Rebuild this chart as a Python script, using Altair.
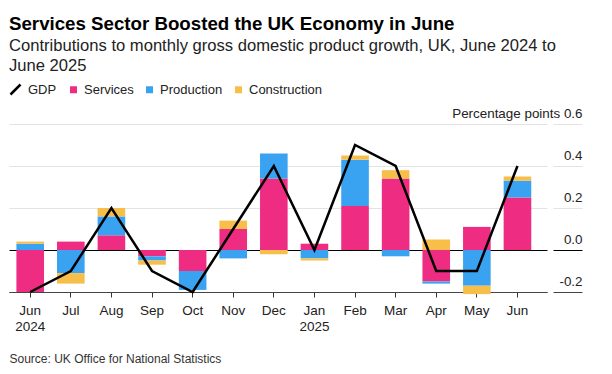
import altair as alt
import pandas as pd

months = ["Jun 2024", "Jul", "Aug", "Sep", "Oct", "Nov", "Dec",
          "Jan 2025", "Feb", "Mar", "Apr", "May", "Jun"]
services = [-0.20, 0.04, 0.07, -0.03, -0.10, 0.10, 0.34, 0.03, 0.21, 0.34, -0.15, 0.11, 0.25]
production = [0.03, -0.11, 0.09, -0.02, -0.09, -0.04, 0.12, -0.04, 0.22, -0.03, -0.01, -0.17, 0.08]
construction = [0.01, -0.05, 0.04, -0.02, 0.00, 0.04, -0.02, -0.01, 0.02, 0.04, 0.05, -0.04, 0.02]
gdp = [-0.2, -0.1, 0.2, -0.1, -0.2, 0.1, 0.4, 0.0, 0.5, 0.4, -0.1, -0.1, 0.4]

sectors = ["Services", "Production", "Construction"]
sector_colors = ["#EE2D82", "#39A3F2", "#F7BF4A"]

rows = []
for i, m in enumerate(months):
    for k, (name, vals) in enumerate(zip(sectors, [services, production, construction])):
        rows.append({"month": m, "sector": name, "value": vals[i], "order": k})
bars_df = pd.DataFrame(rows)
line_df = pd.DataFrame({"month": months, "gdp": gdp, "series": ["GDP"] * len(months)})

FONT = "Liberation Sans"

x_scale = alt.Scale(domain=months, paddingInner=0.32, paddingOuter=0.285, align=0.32)
y_scale = alt.Scale(domain=[-0.2, 0.6], nice=False, zero=False)

x_axis = alt.Axis(
    title="Source: UK Office for National Statistics",
    titleAnchor="start", titleAlign="left", titleFontWeight="normal",
    titleFontSize=12, titleColor="#333", titlePadding=21,
    labelAngle=0, labelExpr="split(datum.label, ' ')",
    labelFontSize=13.5, labelColor="#222", labelPadding=6, labelLineHeight=16,
    tickSize=5, tickColor="#333", domainColor="#444", grid=False,
)

y_axis = alt.Axis(
    title=None, orient="right", offset=6, tickSize=29, domain=False,
    values=[-0.2, 0, 0.2, 0.4, 0.6],
    labelExpr="datum.value > 0.5 ? 'Percentage points 0.6' : (datum.value < -0.1 ? '-0.2' : format(datum.value, '.1f'))",
    labelAlign="right", labelPadding=0, labelBaseline="alphabetic", labelOffset=-7,
    labelFontSize=13.4, labelColor="#222",
    gridColor={"condition": [{"test": "datum.value === 0", "value": "#000"},
                             {"test": "datum.value < -0.1", "value": "#444"}],
               "value": "#e3e3e3"},
    tickColor={"condition": [{"test": "datum.value === 0", "value": "#000"},
                             {"test": "datum.value < -0.1", "value": "#444"}],
               "value": "#e3e3e3"},
)

bars = alt.Chart(bars_df).mark_bar().encode(
    x=alt.X("month:N", scale=x_scale, axis=x_axis, sort=months),
    y=alt.Y("value:Q", scale=y_scale, axis=y_axis, stack="zero"),
    color=alt.Color("sector:N", scale=alt.Scale(domain=sectors, range=sector_colors),
                    legend=alt.Legend(title=None, orient="none", legendX=58, legendY=-41,
                                      direction="horizontal", symbolType="square",
                                      symbolSize=49, labelFontSize=13, columnPadding=9,
                                      labelOffset=4, labelColor="#222")),
    order=alt.Order("order:Q"),
)

line = alt.Chart(line_df).mark_line(strokeWidth=2.5).encode(
    x=alt.X("month:N", scale=x_scale, sort=months),
    y=alt.Y("gdp:Q", scale=y_scale),
    stroke=alt.Stroke("series:N", scale=alt.Scale(domain=["GDP"], range=["#000"]),
                      legend=alt.Legend(title=None, orient="none", legendX=0, legendY=-41,
                                        symbolType="M-1,1L1,-1", symbolSize=100,
                                        symbolStrokeWidth=2.5, labelFontSize=13,
                                        labelOffset=6, labelColor="#222")),
)

chart = alt.layer(bars, line).properties(
    width=538, height=168,
    padding={"left": 1, "top": 6, "right": 5, "bottom": 5},
    title=alt.TitleParams(
        text="Services Sector Boosted the UK Economy in June",
        subtitle=["Contributions to monthly gross domestic product growth, UK, June 2024 to",
                  "June 2025"],
        anchor="start", frame="group", fontSize=18.7, fontWeight="bold", color="#000",
        subtitleFontSize=16.6, subtitleColor="#222", subtitlePadding=5,
        subtitleLineHeight=20, offset=8, font=FONT, subtitleFont=FONT,
    ),
).configure(font=FONT).configure_view(stroke=None)

chart.save("out.html", embed_options={"renderer": "svg", "actions": False})
